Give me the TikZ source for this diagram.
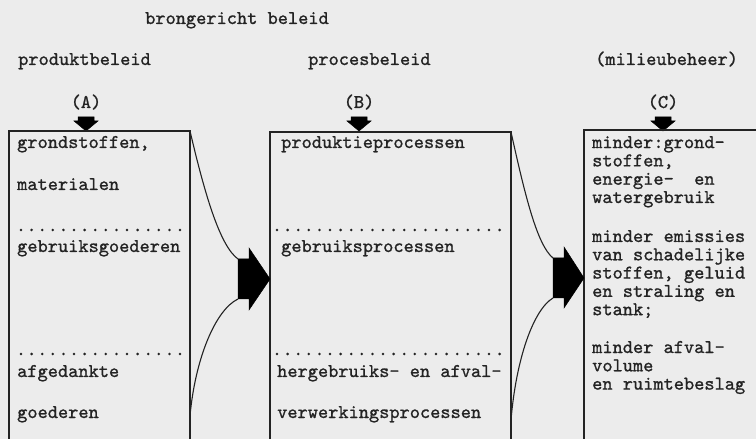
\documentclass[tikz,border=0pt]{standalone}
\usepackage{fontspec}
\newfontfamily\tw{lmmono10-regular}[Extension=.otf,FakeBold=1]
\definecolor{bg}{RGB}{236,236,236}
\definecolor{ink}{RGB}{35,35,35}
\begin{document}
\begin{tikzpicture}[x=1bp,y=-1bp,
  txt/.style={anchor=base west,inner sep=0pt,text=ink,font=\tw\fontsize{19.5}{18.3bp}\selectfont},
  ctxt/.style={anchor=base,inner sep=0pt,text=ink,font=\tw\fontsize{19.5}{18.3bp}\selectfont},
  mtxt/.style={txt,align=left},
  boxline/.style={draw=ink,line width=1.1bp},
  curve/.style={draw=ink,line width=1.1bp},
  dots/.style={draw=ink,line width=2.8bp,line cap=round,dash pattern=on 0bp off 10.6bp},
  blk/.style={fill=black,draw=black,line width=0.5bp}]
\fill[bg] (0,0) rectangle (756,439);
\useasboundingbox (0,0) rectangle (756,439);

% headings
\node[txt] (h0) at (145,24) {brongericht beleid};
\node[txt] (h1) at (18,65) {produktbeleid};
\node[txt] (h2) at (308,65) {procesbeleid};
\node[txt] (h3) at (595,65) {(milieubeheer)};
\node[ctxt] (la) at (86,108) {(A)};
\node[ctxt] (lb) at (359,108) {(B)};
\node[ctxt] (lc) at (663,108) {(C)};

% down arrows
\foreach \cx in {86,359,663}{
  \fill[blk] (\cx-8,117) -- (\cx+8,117) -- (\cx+8,121) -- (\cx+12,121) -- (\cx,131) -- (\cx-12,121) -- (\cx-8,121) -- cycle;
}

% boxes (open at bottom)
\draw[boxline] (9,439) -- (9,131) -- (190,131) -- (190,439);
\draw[boxline] (270,439) -- (270,132) -- (511,132) -- (511,439);
\draw[boxline] (584,439) -- (584,130) -- (757,130);

% dotted separators
\draw[dots] (21,230) -- (186,230);
\draw[dots] (277,230) -- (507,230);
\draw[dots] (21,354) -- (186,354);
\draw[dots] (277,354) -- (507,354);

% box A text
\node[txt] (a1) at (17,148) {grondstoffen,};
\node[txt] (a2) at (17,190) {materialen};
\node[txt] (a3) at (17,252) {gebruiksgoederen};
\node[txt] (a4) at (17,377) {afgedankte};
\node[txt] (a5) at (17,418) {goederen};

% box B text
\node[txt] (b1) at (281,148) {produktieprocessen};
\node[txt] (b2) at (281,252) {gebruiksprocessen};
\node[txt] (b3) at (277,377) {hergebruiks- en afval-};
\node[txt] (b4) at (277,418) {verwerkingsprocessen};

% box C text (anchored at the baseline of each block's last line)
\node[mtxt] (c1) at (592,203) {minder:grond-\\stoffen,\\energie-\ \ en\\watergebruik};
\node[mtxt] (c2) at (592,315.2) {minder emissies\\van schadelijke\\stoffen, geluid\\en straling en\\stank;};
\node[mtxt] (c3) at (592,389.6) {minder afval-\\volume\\en ruimtebeslag};

% right block arrow 1
\coordinate (p1t) at (238,259);
\coordinate (p1b) at (238,299);
\fill[blk] (p1t) -- (249,259) -- (249,248) -- (270,279) -- (249,310) -- (249,299) -- (p1b) -- cycle;
\coordinate (a1top) at (190,131);
\coordinate (a1bot) at (190,416);
\draw[curve] (a1top) .. controls (205,195) and (220,246) .. (p1t);
\draw[curve] (a1bot) .. controls (195,360) and (215,310) .. (p1b);

% right block arrow 2
\coordinate (p2t) at (553,258);
\coordinate (p2b) at (553,298);
\fill[blk] (p2t) -- (564,258) -- (564,247) -- (584,278) -- (564,308) -- (564,298) -- (p2b) -- cycle;
\coordinate (b1top) at (511,132);
\coordinate (b1bot) at (511,420);
\draw[curve] (b1top) .. controls (525,195) and (537,245) .. (p2t);
\draw[curve] (b1bot) .. controls (516,360) and (533,310) .. (p2b);
\end{tikzpicture}
\end{document}
